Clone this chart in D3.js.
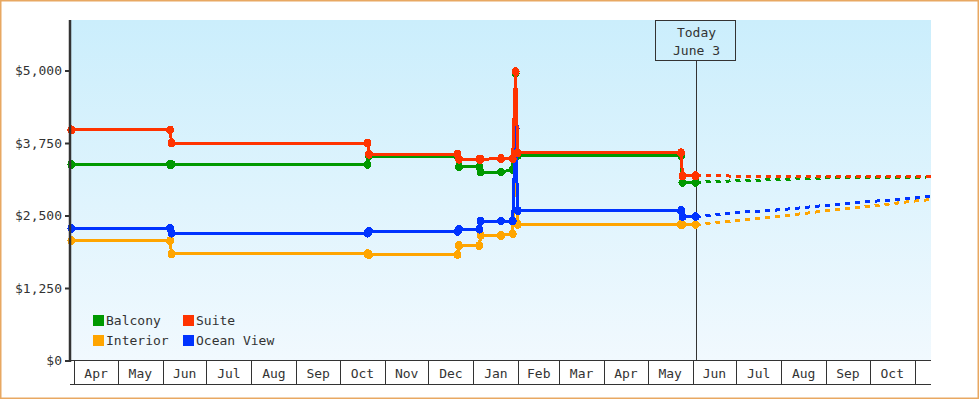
<!DOCTYPE html>
<html>
<head>
<meta charset="utf-8">
<script src="https://cdn.jsdelivr.net/npm/d3@7"></script>
<style>
  html, body { margin: 0; padding: 0; background: #fff; }
  svg { display: block; }
  text { font-family: "DejaVu Sans Mono", monospace; font-size: 13px; fill: #333; }
</style>
</head>
<body>
<div id="chart"></div>
<script>
// price history dates (shared by all cabin types)
const dates = ['2022-03-30', '2022-06-06', '2022-06-07', '2022-10-20', '2022-10-21',
  '2022-12-21', '2022-12-22', '2023-01-05', '2023-01-06', '2023-01-20',
  '2023-01-28', '2023-01-30', '2023-01-31 12', '2023-05-24', '2023-05-25', '2023-06-03'];
const balcony   = [3380, 3380, 3380, 3380, 3525, 3525, 3340, 3340, 3250, 3250, 3290, 4950, 3535, 3535, 3070, 3070];
const suite     = [3975, 3975, 3750, 3750, 3555, 3555, 3470, 3470, 3470, 3480, 3480, 4980, 3580, 3580, 3185, 3185];
const interior  = [2065, 2065, 1840, 1840, 1825, 1825, 1980, 1980, 2155, 2155, 2185, 3765, 2345, 2345, 2345, 2345];
const oceanView = [2280, 2280, 2195, 2195, 2225, 2225, 2265, 2265, 2405, 2405, 2405, 4000, 2585, 2585, 2480, 2480];

// projected prices (dashed)
const projDates = ['2023-06-03', '2023-07-01', '2023-08-01', '2023-09-01', '2023-10-01', '2023-11-01', '2023-11-12'];
const balconyProj   = [3070, 3100, 3120, 3150, 3155, 3160, 3165];
const suiteProj     = [3185, 3180, 3178, 3168, 3166, 3166, 3166];
const interiorProj  = [2345, 2415, 2490, 2580, 2660, 2750, 2775];
const oceanViewProj = [2480, 2550, 2600, 2675, 2740, 2800, 2830];

const seriesNames  = ['Balcony', 'Interior', 'Ocean View', 'Suite'];
const seriesColors = ['#009900', '#ffa500', '#0033ff', '#ff3300'];
const seriesValues = [balcony, interior, oceanView, suite];
const seriesProj   = [balconyProj, interiorProj, oceanViewProj, suiteProj];

const legendOrder = ['Balcony', 'Suite', 'Interior', 'Ocean View'];
const yTicks = [0, 1250, 2500, 3750, 5000];
const todayDate = '2023-06-03';
const todayLabel = ['Today', 'June 3'];
const domainStart = '2022-03-30', domainEnd = '2023-11-12';

const W = 980, H = 400;
const plotL = 71, plotR = 931, plotT = 20, plotB = 360;
const parseHour = d3.timeParse('%Y-%m-%d %H');
const parse = s => parseHour(s.length > 10 ? s : s + ' 00');

const x = d3.scaleTime().domain([parse(domainStart), parse(domainEnd)]).range([71.4, 930.7]);
const y = d3.scaleLinear().domain([0, 5000]).range([360.5, 70.5]);

const svg = d3.select('#chart').append('svg').attr('width', W).attr('height', H);

// background gradient
const grad = svg.append('defs').append('linearGradient')
  .attr('id', 'bg').attr('x1', 0).attr('y1', 0).attr('x2', 0).attr('y2', 1);
grad.append('stop').attr('offset', '0%').attr('stop-color', '#cbeefc');
grad.append('stop').attr('offset', '100%').attr('stop-color', '#f1f9fe');

svg.append('rect').attr('x', plotL).attr('y', plotT)
  .attr('width', plotR - plotL).attr('height', plotB - plotT).attr('fill', 'url(#bg)');

// today marker
const tx = Math.round(x(parse(todayDate))) + 0.5;
svg.append('line').attr('x1', tx).attr('x2', tx).attr('y1', 60).attr('y2', plotB)
  .attr('stroke', '#333').attr('stroke-width', 1).attr('shape-rendering', 'crispEdges');
svg.append('rect').attr('x', 655.5).attr('y', 20.5).attr('width', 80).attr('height', 40)
  .attr('fill', 'none').attr('stroke', '#333').attr('stroke-width', 1).attr('shape-rendering', 'crispEdges');
todayLabel.forEach((t, i) => {
  svg.append('text').attr('x', tx).attr('y', 37 + i * 18).attr('text-anchor', 'middle').text(t);
});

// series
const line = d3.line().x(d => x(d.date)).y(d => y(d.value));
const marks = svg.append('g').attr('shape-rendering', 'crispEdges');

seriesNames.forEach((name, si) => {
  const color = seriesColors[si];
  const pts  = dates.map((d, i) => ({ date: parse(d), value: seriesValues[si][i] }));
  const proj = projDates.map((d, i) => ({ date: parse(d), value: seriesProj[si][i] }));

  marks.append('path').datum(proj).attr('d', line)
    .attr('fill', 'none').attr('stroke', color).attr('stroke-width', 3)
    .attr('stroke-dasharray', '5,5');

  marks.append('path').datum(pts).attr('d', line)
    .attr('fill', 'none').attr('stroke', color).attr('stroke-width', 3);

  marks.selectAll(null).data(pts).enter().append('ellipse')
    .attr('cx', d => x(d.date)).attr('cy', d => y(d.value))
    .attr('rx', 4).attr('ry', 4.5).attr('fill', color);
});

// legend
const legend = svg.append('g');
legendOrder.forEach((name, i) => {
  const col = i % 2, row = Math.floor(i / 2);
  const lx = 93 + col * 90, ly = 315 + row * 20;
  legend.append('rect').attr('x', lx).attr('y', ly).attr('width', 11).attr('height', 11)
    .attr('fill', seriesColors[seriesNames.indexOf(name)]);
  legend.append('text').attr('x', lx + 13).attr('y', ly + 10).text(name);
});

// y axis
const yAxis = svg.append('g').attr('transform', 'translate(70,0)')
  .call(d3.axisLeft(y).tickValues(yTicks).tickSize(5).tickPadding(3)
    .tickFormat(d => '$' + d3.format(',')(d)));
yAxis.select('.domain').remove();
yAxis.selectAll('.tick line').attr('stroke', '#333').attr('stroke-width', 2);
yAxis.selectAll('.tick text').attr('font-family', '"DejaVu Sans Mono", monospace')
  .attr('font-size', 13).attr('fill', '#333');
svg.append('line').attr('x1', 70).attr('x2', 70).attr('y1', plotT).attr('y2', 362)
  .attr('stroke', '#333').attr('stroke-width', 2.5);

// x axis: month boxes
const xAxis = svg.append('g').attr('shape-rendering', 'crispEdges');
const months = d3.timeMonth.range(parse('2022-04-01'), parse(domainEnd));
xAxis.append('line').attr('x1', 70).attr('x2', plotR).attr('y1', 360.5).attr('y2', 360.5)
  .attr('stroke', '#333').attr('stroke-width', 1.5);
xAxis.append('line').attr('x1', 70).attr('x2', plotR).attr('y1', 384.5).attr('y2', 384.5)
  .attr('stroke', '#333').attr('stroke-width', 1.5);
xAxis.selectAll('line.month').data(months).enter().append('line')
  .attr('class', 'month')
  .attr('x1', d => Math.round(x(d)) + 0.5).attr('x2', d => Math.round(x(d)) + 0.5)
  .attr('y1', 360).attr('y2', 385).attr('stroke', '#333').attr('stroke-width', 1);
xAxis.selectAll('text').data(months.slice(0, -1)).enter().append('text')
  .attr('x', d => (x(d) + x(d3.timeMonth.offset(d, 1))) / 2)
  .attr('y', 377.5).attr('text-anchor', 'middle')
  .text(d => d3.timeFormat('%b')(d));

// outer border
svg.append('rect').attr('x', 0.75).attr('y', 0.75).attr('width', 977.5).attr('height', 397.5)
  .attr('fill', 'none').attr('stroke', '#e8a862').attr('stroke-width', 1.5);
</script>
</body>
</html>
